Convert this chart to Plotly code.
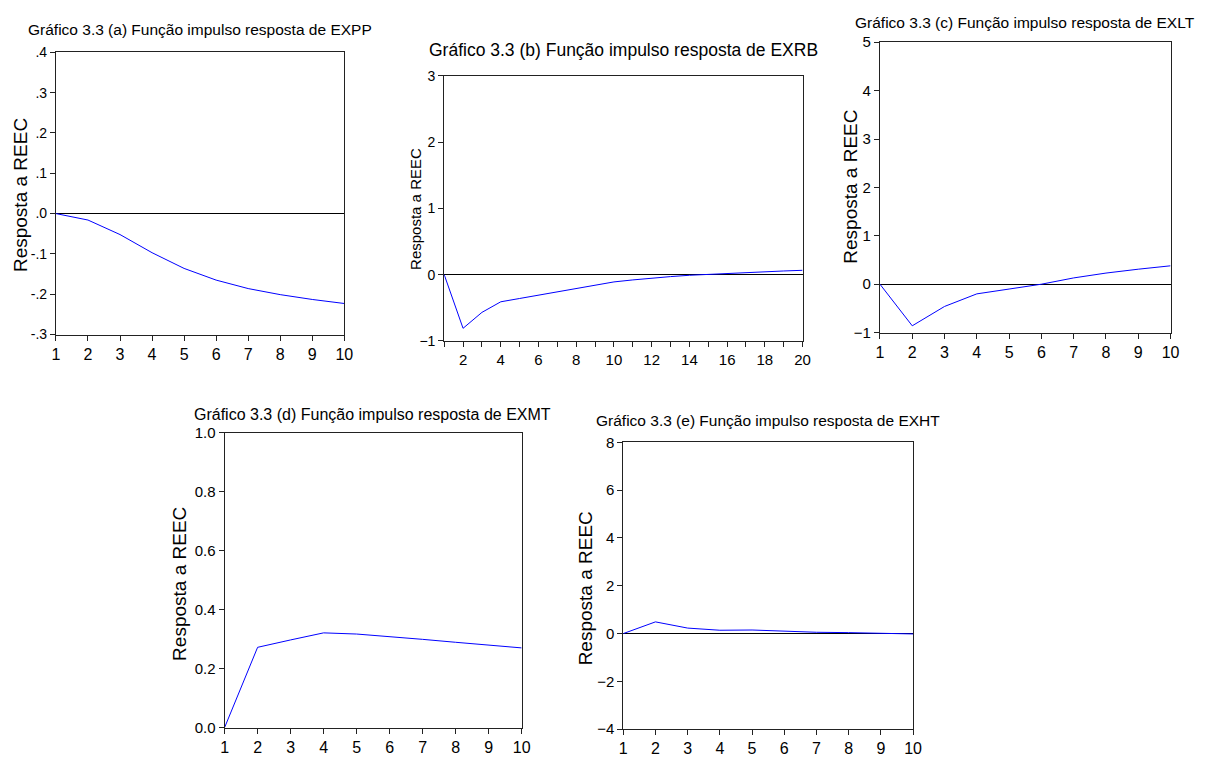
import plotly.graph_objects as go

W, H = 1205, 759
FONT = "Arial, Liberation Sans, sans-serif"

# ---- data ----
periods_10 = list(range(1, 11))
periods_20 = list(range(1, 21))

expp = [0.0, -0.016, -0.052, -0.097, -0.136, -0.165, -0.186, -0.201, -0.213, -0.223]
exrb = [0.0, -0.81, -0.57, -0.41, -0.36, -0.31, -0.25, -0.20, -0.15, -0.11,
        -0.08, -0.05, -0.03, -0.01, 0.005, 0.02, 0.035, 0.045, 0.055, 0.065]
exlt = [0.0, -0.86, -0.46, -0.20, -0.10, 0.0, 0.13, 0.23, 0.31, 0.38]
exmt = [0.0, 0.272, 0.297, 0.321, 0.317, 0.309, 0.299, 0.289, 0.280, 0.270]
exht = [0.0, 0.49, 0.23, 0.14, 0.15, 0.10, 0.055, 0.04, 0.0, -0.015]

titles = [
    "Gráfico 3.3 (a) Função impulso resposta de EXPP",
    "Gráfico 3.3 (b) Função impulso resposta de EXRB",
    "Gráfico 3.3 (c) Função impulso resposta de EXLT",
    "Gráfico 3.3 (d) Função impulso resposta de EXMT",
    "Gráfico 3.3 (e) Função impulso resposta de EXHT",
]
ylabel = "Resposta a REEC"

ticks_a_vals = [-0.3, -0.2, -0.1, 0.0, 0.1, 0.2, 0.3, 0.4]
ticks_a_text = ["-.3", "-.2", "-.1", ".0", ".1", ".2", ".3", ".4"]
ticks_b_y = [-1, 0, 1, 2, 3]
ticks_c_y = [-1, 0, 1, 2, 3, 4, 5]
ticks_d_y = [0.0, 0.2, 0.4, 0.6, 0.8, 1.0]
ticks_e_y = [-4, -2, 0, 2, 4, 6, 8]
ticks_b_x_text = [str(v) if v % 2 == 0 else "" for v in periods_20]

# ---- layout geometry (pixels) ----
panels = [
    # x0, x1, y0(top), y1(bottom)
    (52.5, 344.0, 44.3, 333.0),
    (445.0, 807.3, 68.3, 339.5),
    (885.5, 1179.3, 34.0, 331.0),
    (223.0, 523.3, 433.3, 735.0),
    (626.0, 919.0, 443.3, 736.7),
]
title_pos = [(198.0, 20.5, 15.5), (626.0, 42.0, 17.5), (1032.5, 14.0, 15.5),
             (373.0, 415.0, 16.0), (772.5, 421.0, 15.5)]
ylab_pos = [(16.5, 190.0, 19), (416.0, 205.0, 15), (856.0, 182.0, 19),
            (178.0, 588.0, 19), (588.0, 593.0, 19)]

fig = go.Figure()
series = [(periods_10, expp), (periods_20, exrb), (periods_10, exlt),
          (periods_10, exmt), (periods_10, exht)]

for i, (xs, ys) in enumerate(series):
    sfx = "" if i == 0 else str(i + 1)
    fig.add_trace(go.Scatter(x=xs, y=ys, mode="lines",
                             line=dict(color="#0000FF", width=1),
                             xaxis="x" + sfx, yaxis="y" + sfx,
                             showlegend=False, hoverinfo="x+y"))

axis_common = dict(showgrid=False, showline=True, linecolor="#222222", linewidth=1,
                   mirror=True, ticks="outside", ticklen=5, tickcolor="#222222",
                   tickwidth=1, color="#000000")

yranges = [[-0.3, 0.4], [-1, 3], [-1, 5], [0, 1], [-4, 8]]
yticks = [
    dict(tickvals=ticks_a_vals, ticktext=ticks_a_text, tickfont=dict(size=14)),
    dict(tickvals=ticks_b_y, tickfont=dict(size=14)),
    dict(tickvals=ticks_c_y, tickfont=dict(size=15)),
    dict(tickvals=ticks_d_y, tickformat=".1f", tickfont=dict(size=15)),
    dict(tickvals=ticks_e_y, tickfont=dict(size=15)),
]
xticks = [
    dict(tickvals=periods_10, tickfont=dict(size=16)),
    dict(tickvals=periods_20, ticktext=ticks_b_x_text, tickfont=dict(size=15)),
    dict(tickvals=periods_10, tickfont=dict(size=16)),
    dict(tickvals=periods_10, tickfont=dict(size=16)),
    dict(tickvals=periods_10, tickfont=dict(size=16)),
]
xranges = [[1, 10], [1, 20], [1, 10], [1, 10], [1, 10]]

layout = dict(width=W, height=H, margin=dict(l=0, r=0, t=0, b=0),
              paper_bgcolor="white", plot_bgcolor="white",
              font=dict(family=FONT, color="#000000"), annotations=[])

for i, (x0, x1, y0, y1) in enumerate(panels):
    sfx = "" if i == 0 else str(i + 1)
    xa = dict(axis_common, domain=[x0 / W, x1 / W], range=xranges[i],
              anchor="y" + sfx, zeroline=False, **xticks[i])
    ya = dict(axis_common, domain=[1 - y1 / H, 1 - y0 / H], range=yranges[i],
              anchor="x" + sfx, zeroline=(i != 3), zerolinecolor="#000000",
              zerolinewidth=1, **yticks[i])
    layout["xaxis" + sfx] = xa
    layout["yaxis" + sfx] = ya
    tx, ty, ts = title_pos[i]
    layout["annotations"].append(dict(text=titles[i], xref="paper", yref="paper",
                                      x=tx / W, y=1 - ty / H, xanchor="center",
                                      yanchor="middle", showarrow=False,
                                      font=dict(size=ts, family=FONT, color="#000")))
    lx, ly, ls = ylab_pos[i]
    layout["annotations"].append(dict(text=ylabel, xref="paper", yref="paper",
                                      x=lx / W, y=1 - ly / H, xanchor="center",
                                      yanchor="middle", textangle=-90, showarrow=False,
                                      font=dict(size=ls, family=FONT, color="#000")))

fig.update_layout(**layout)
fig.write_html("out.html")
